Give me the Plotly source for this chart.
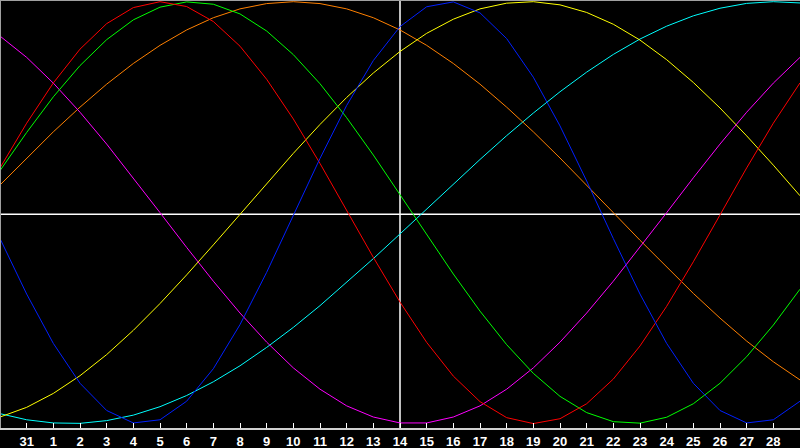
import plotly.graph_objects as go

# day index 0..30 across the chart, today = index 15 (the 14th)
days = list(range(31))
tick_pos = list(range(1, 30))
tick_text = ['31'] + [str(d) for d in range(1, 29)]
today = 15

# cycle values (-1 .. 1)
physical = [-0.123, -0.386, -0.620, -0.809, -0.938, -0.997, -0.982, -0.894, -0.740, -0.531, -0.283, -0.014, 0.257, 0.508, 0.721, 0.882, 0.976, 0.999, 0.947, 0.825, 0.642, 0.411, 0.150, -0.123, -0.386, -0.620, -0.809, -0.938, -0.997, -0.982, -0.894]
emotional = [0.212, 0.424, 0.615, 0.775, 0.896, 0.972, 1.000, 0.977, 0.906, 0.789, 0.632, 0.444, 0.233, 0.011, -0.212, -0.424, -0.615, -0.775, -0.896, -0.972, -1.000, -0.977, -0.906, -0.789, -0.632, -0.444, -0.233, -0.011, 0.212, 0.424, 0.615]
intellectual = [0.199, 0.380, 0.549, 0.697, 0.820, 0.914, 0.974, 0.999, 0.988, 0.942, 0.861, 0.749, 0.611, 0.450, 0.273, 0.086, -0.105, -0.291, -0.467, -0.626, -0.762, -0.871, -0.948, -0.991, -0.998, -0.970, -0.906, -0.809, -0.683, -0.533, -0.363]
intuitive = [0.837, 0.736, 0.614, 0.476, 0.325, 0.165, 0.000, -0.165, -0.325, -0.476, -0.614, -0.736, -0.837, -0.916, -0.969, -0.997, -0.997, -0.969, -0.916, -0.837, -0.736, -0.614, -0.476, -0.325, -0.165, -0.000, 0.165, 0.325, 0.476, 0.614, 0.736]
aesthetic = [-0.969, -0.923, -0.857, -0.773, -0.673, -0.558, -0.431, -0.295, -0.153, -0.007, 0.138, 0.281, 0.418, 0.546, 0.662, 0.764, 0.850, 0.917, 0.966, 0.993, 1.000, 0.985, 0.949, 0.893, 0.818, 0.725, 0.617, 0.496, 0.364, 0.225, 0.080]
awareness = [0.131, 0.259, 0.383, 0.500, 0.609, 0.707, 0.793, 0.866, 0.924, 0.966, 0.991, 1.000, 0.991, 0.966, 0.924, 0.866, 0.793, 0.707, 0.609, 0.500, 0.383, 0.259, 0.131, 0.000, -0.131, -0.259, -0.383, -0.500, -0.609, -0.707, -0.793]
spiritual = [-0.953, -0.982, -0.997, -0.999, -0.986, -0.960, -0.920, -0.867, -0.802, -0.726, -0.639, -0.544, -0.441, -0.331, -0.218, -0.101, 0.018, 0.136, 0.252, 0.365, 0.472, 0.573, 0.666, 0.750, 0.823, 0.884, 0.933, 0.969, 0.992, 1.000, 0.994]

series = [
    ('Spiritual', spiritual, '#00ffff'),
    ('Awareness', awareness, '#ff8000'),
    ('Aesthetic', aesthetic, '#ffff00'),
    ('Intuitive', intuitive, '#ff00ff'),
    ('Intellectual', intellectual, '#00ff00'),
    ('Emotional', emotional, '#ff0000'),
    ('Physical', physical, '#0020ff'),
]

fig = go.Figure()
for name, vals, col in series:
    fig.add_trace(go.Scatter(x=days, y=vals, mode='lines', name=name,
                             line=dict(color=col, width=1), hoverinfo='skip'))

# midline, today marker and frame
fig.add_shape(type='line', xref='paper', yref='y', x0=0, x1=1, y0=-0.008, y1=-0.008,
              line=dict(color='white', width=1.5), layer='below')
fig.add_shape(type='line', xref='x', yref='paper', x0=today, x1=today, y0=0, y1=1,
              line=dict(color='white', width=1.5), layer='below')
fig.add_shape(type='line', xref='paper', yref='paper', x0=0, x1=1, y0=1, y1=1,
              line=dict(color='#a0a0a0', width=2))
fig.add_shape(type='line', xref='paper', yref='paper', x0=0, x1=0, y0=0, y1=1,
              line=dict(color='#a0a0a0', width=2))

fig.update_layout(
    width=800, height=448,
    margin=dict(l=0, r=0, t=0, b=20),
    plot_bgcolor='black', paper_bgcolor='black',
    showlegend=False,
    xaxis=dict(range=[0, 30], tickvals=tick_pos, ticktext=tick_text,
               ticks='inside', ticklen=5, tickwidth=1, tickcolor='white',
               showgrid=False, zeroline=False, showline=True, linecolor='#d0d0d0', linewidth=2,
               tickfont=dict(family='Liberation Sans', size=13, color='white', weight='bold'),
               fixedrange=True),
    yaxis=dict(range=[-1.021, 1.008], showgrid=False, zeroline=False, showticklabels=False,
               fixedrange=True),
)

fig.write_html("out.html", config={'displayModeBar': False})

# drop the browser's default page margin so the chart sits at 0,0
with open("out.html", encoding="utf-8") as f:
    page = f.read()
page = page.replace("<body>", '<body style="margin:0;background:black;overflow:hidden">', 1)
with open("out.html", "w", encoding="utf-8") as f:
    f.write(page)
